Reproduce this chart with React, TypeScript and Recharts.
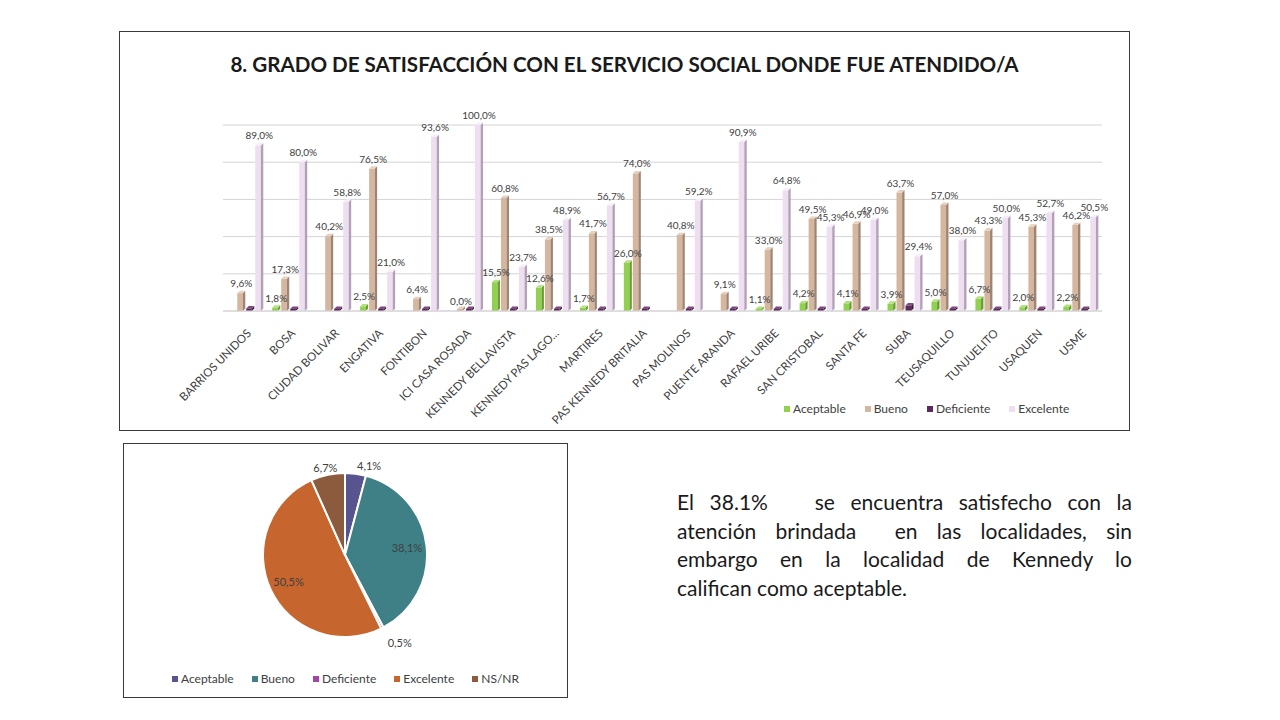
import React from 'react'
import {
  BarChart,
  Bar,
  XAxis,
  YAxis,
  CartesianGrid,
  LabelList,
  PieChart,
  Pie,
  Cell,
} from 'recharts'

const LOCALIDADES = [
  'BARRIOS UNIDOS', 'BOSA', 'CIUDAD BOLIVAR', 'ENGATIVA', 'FONTIBON',
  'ICI CASA ROSADA', 'KENNEDY BELLAVISTA', 'KENNEDY PAS LAGO...', 'MARTIRES', 'PAS KENNEDY BRITALIA',
  'PAS MOLINOS', 'PUENTE ARANDA', 'RAFAEL URIBE', 'SAN CRISTOBAL', 'SANTA FE',
  'SUBA', 'TEUSAQUILLO', 'TUNJUELITO', 'USAQUEN', 'USME',
]
// null = sin etiqueta en el original
const ACEPTABLE = [null, 1.8, null, 2.5, null, null, 15.5, 12.6, 1.7, 26.0, null, null, 1.1, 4.2, 4.1, 3.9, 5.0, 6.7, 2.0, 2.2]
const BUENO = [9.6, 17.3, 40.2, 76.5, 6.4, 0.0, 60.8, 38.5, 41.7, 74.0, 40.8, 9.1, 33.0, 49.5, 46.9, 63.7, 57.0, 43.3, 45.3, 46.2]
const DEFICIENTE = [1.4, 0.9, 1.0, 0, 0, 0, 0, 0, 0, 0, 0, 0, 1.1, 1.0, 0, 3.0, 0, 0, 0, 1.1]
const EXCELENTE = [89.0, 80.0, 58.8, 21.0, 93.6, 100.0, 23.7, 48.9, 56.7, null, 59.2, 90.9, 64.8, 45.3, 49.0, 29.4, 38.0, 50.0, 52.7, 50.5]
const Y_TICKS = [0, 20, 40, 60, 80, 100]

const PIE_NAMES = ['Aceptable', 'Bueno', 'Deficiente', 'Excelente', 'NS/NR']
const PIE_VALUES = [4.1, 38.1, 0.5, 50.5, 6.7]
const PIE_COLORS = ['#58548f', '#3f8087', '#a145a8', '#c7652f', '#8c5a3c']

const TEXT_LINES = [
  'El 38.1%\u00a0\u00a0 se encuentra satisfecho con la',
  'atención brindada\u00a0 en las localidades, sin',
  'embargo en la localidad de Kennedy lo',
  'califican como aceptable.',
]

const SERIES = [
  { key: 'aceptable', name: 'Aceptable', front: '#92d050', side: '#6a9c38', top: '#b4e07e', labeled: true },
  { key: 'bueno', name: 'Bueno', front: '#d5b7a0', side: '#9e8472', top: '#e6d0c0', labeled: true },
  { key: 'deficiente', name: 'Deficiente', front: '#5e2a5e', side: '#3e1a3e', top: '#7e4a7e', labeled: false },
  { key: 'excelente', name: 'Excelente', front: '#eddff0', side: '#b3a0b8', top: '#f6eef8', labeled: true },
]

const data = LOCALIDADES.map((name, i) => ({
  name,
  aceptable: ACEPTABLE[i],
  bueno: BUENO[i],
  deficiente: DEFICIENTE[i],
  excelente: EXCELENTE[i],
}))

const pieData = PIE_NAMES.map((name, i) => ({ name, value: PIE_VALUES[i] }))

const fmt = (v: any) => (v == null ? '' : Number(v).toFixed(1).replace('.', ',') + '%')

const FONT = 'Lato, "Open Sans", sans-serif'

function make3D(front: string, side: string, top: string) {
  return (props: any) => {
    const { x, width, background } = props
    let { y, height } = props
    if (!isFinite(x) || !isFinite(width)) return <g />
    if (!isFinite(y) || !isFinite(height) || height < 2) {
      const base = background ? background.y + background.height : y + (height || 0)
      if (!isFinite(base)) return <g />
      y = base - 2
      height = 2
    }
    const d = Math.min(3, width * 0.3)
    const fw = width - d
    return (
      <g>
        <rect x={x} y={y} width={fw} height={height} fill={front} />
        <polygon
          points={`${x + fw},${y} ${x + width},${y - d} ${x + width},${y + height - d} ${x + fw},${y + height}`}
          fill={side}
        />
        <polygon
          points={`${x},${y} ${x + d},${y - d} ${x + width},${y - d} ${x + fw},${y}`}
          fill={top}
        />
      </g>
    )
  }
}

const CategoryTick = (props: any) => {
  const { x, y, payload } = props
  const tx = x + 7
  const ty = y + 15
  return (
    <text
      x={tx}
      y={ty}
      transform={`rotate(-45, ${tx}, ${ty})`}
      textAnchor="end"
      fontSize={11.5}
      fontFamily={FONT}
      fill="#404040"
    >
      {payload.value}
    </text>
  )
}

const RADIAN = Math.PI / 180
const pieLabel = (props: any) => {
  const { cx, cy, midAngle, outerRadius, percent, value } = props
  const inside = percent > 0.2
  const cos = Math.cos(-midAngle * RADIAN)
  const sin = Math.sin(-midAngle * RADIAN)
  const r = inside ? outerRadius * 0.76 : outerRadius + 12
  const lx = cx + r * cos
  const ly = cy + r * sin + (inside ? 0 : 4)
  const anchor = inside || cos < 0 ? 'middle' : 'start'
  return (
    <text
      x={lx}
      y={ly}
      textAnchor={anchor}
      dominantBaseline="central"
      fontSize={11}
      fontFamily={FONT}
      fill="#404040"
    >
      {fmt(value)}
    </text>
  )
}

function LegendRow({ items, fontSize, gap }: { items: { name: string; color: string }[]; fontSize: number; gap: number }) {
  return (
    <div style={{ display: 'flex', gap, fontFamily: FONT, fontSize, color: '#404040', alignItems: 'center' }}>
      {items.map((it) => (
        <span key={it.name} style={{ display: 'flex', alignItems: 'center', gap: 3 }}>
          <span style={{ width: 6, height: 6, background: it.color, display: 'inline-block' }} />
          {it.name}
        </span>
      ))}
    </div>
  )
}

export default function App() {
  return (
    <div style={{ position: 'absolute', left: 0, top: 0, width: 1280, height: 720, background: '#fff' }}>
      {/* gráfico de barras */}
      <div
        style={{
          position: 'absolute', left: 119, top: 31, width: 1009, height: 398,
          border: '1px solid #3a3a3a', background: '#fff',
        }}
      >
        <div
          style={{
            position: 'absolute', left: 0, right: 0, top: 20, textAlign: 'center',
            fontFamily: FONT, fontWeight: 'bold', fontSize: 20.6, color: '#1a1a1a',
          }}
        >
          8. GRADO DE SATISFACCIÓN CON EL SERVICIO SOCIAL DONDE FUE ATENDIDO/A
        </div>
        <BarChart
          width={1009}
          height={398}
          data={data}
          margin={{ top: 93, right: 27, bottom: 89, left: 103 }}
          barCategoryGap="12%"
          barGap={1}
        >
          <CartesianGrid vertical={false} stroke="#d4d4d4" />
          <YAxis hide domain={[0, 100]} ticks={Y_TICKS} />
          <XAxis
            dataKey="name"
            interval={0}
            height={30}
            tickLine={false}
            axisLine={{ stroke: '#d4d4d4' }}
            tick={<CategoryTick />}
          />
          {SERIES.map((s) => (
            <Bar
              key={s.key}
              dataKey={s.key}
              name={s.name}
              fill={s.front}
              isAnimationActive={false}
              shape={make3D(s.front, s.side, s.top)}
            >
              {s.labeled && (
                <LabelList
                  dataKey={s.key}
                  position="top"
                  offset={6}
                  formatter={fmt}
                  style={{ fontSize: 10, fontFamily: FONT, fill: '#404040' }}
                />
              )}
            </Bar>
          ))}
        </BarChart>
        <div style={{ position: 'absolute', left: 664, top: 369 }}>
          <LegendRow fontSize={12} gap={19} items={SERIES.map((s) => ({ name: s.name, color: s.front }))} />
        </div>
      </div>

      {/* gráfico circular */}
      <div
        style={{
          position: 'absolute', left: 123, top: 443, width: 443, height: 253,
          border: '1px solid #3a3a3a', background: '#fff',
        }}
      >
        <PieChart width={443} height={253} margin={{ top: 0, right: 0, bottom: 0, left: 0 }}>
          <Pie
            data={pieData}
            dataKey="value"
            nameKey="name"
            cx={221}
            cy={111}
            outerRadius={82}
            startAngle={90}
            endAngle={-270}
            stroke="#fff"
            strokeWidth={2}
            label={pieLabel}
            labelLine={false}
            isAnimationActive={false}
          >
            {pieData.map((d, i) => (
              <Cell key={d.name} fill={PIE_COLORS[i]} />
            ))}
          </Pie>
        </PieChart>
        <div style={{ position: 'absolute', left: 0, right: 0, top: 227, display: 'flex', justifyContent: 'center' }}>
          <LegendRow fontSize={12} gap={18} items={PIE_NAMES.map((n, i) => ({ name: n, color: PIE_COLORS[i] }))} />
        </div>
      </div>

      {/* texto */}
      <div
        style={{
          position: 'absolute', left: 677, top: 488, width: 455,
          fontFamily: FONT, fontSize: 21, lineHeight: '28.5px', color: '#1a1a1a',
        }}
      >
        {TEXT_LINES.map((line, i) => (
          <div
            key={i}
            style={{
              textAlign: 'justify',
              textAlignLast: i < TEXT_LINES.length - 1 ? 'justify' : 'left',
              whiteSpace: 'nowrap',
            }}
          >
            {line}
          </div>
        ))}
      </div>
    </div>
  )
}
